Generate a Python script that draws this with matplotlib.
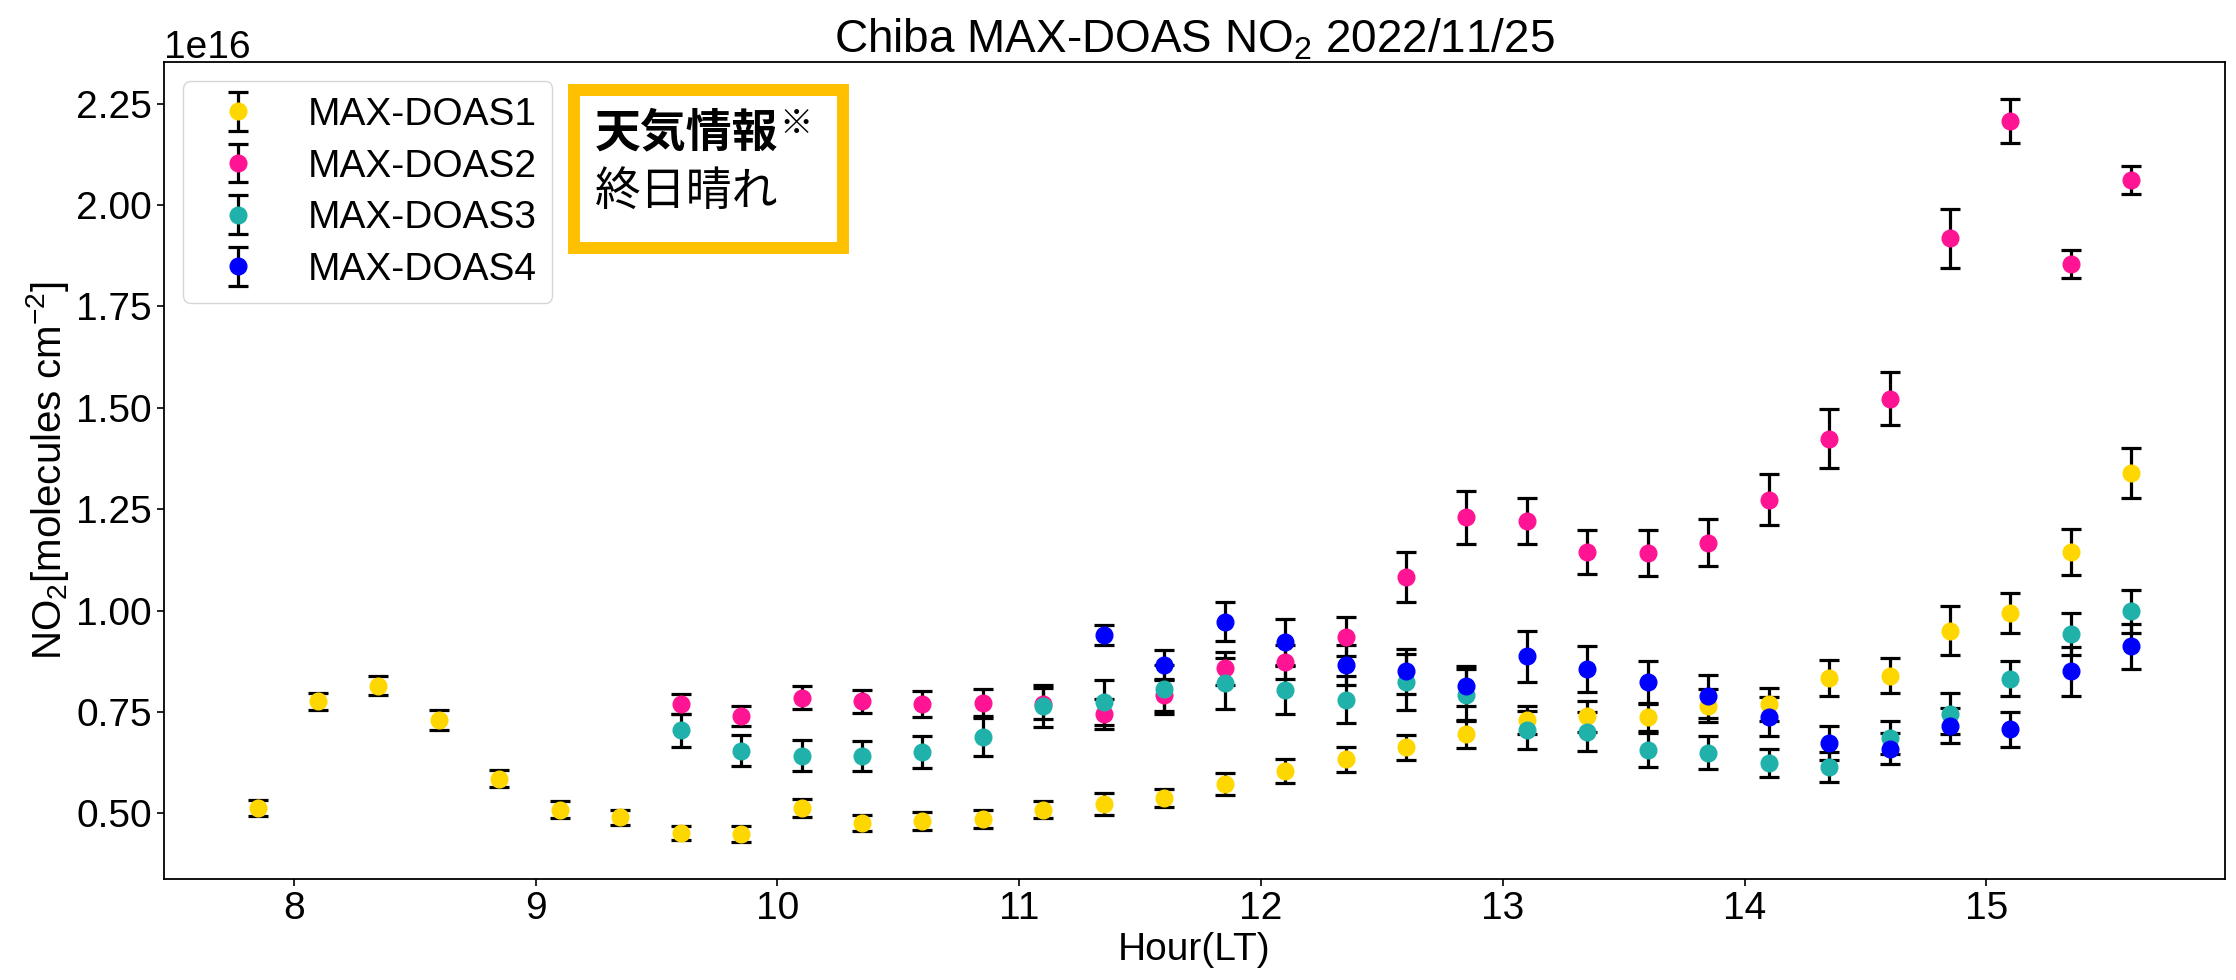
import matplotlib
matplotlib.use('Agg')
import matplotlib.pyplot as plt
from matplotlib.patches import Rectangle

plt.rcParams['font.family'] = ['Liberation Sans', 'DejaVu Sans']
plt.rcParams['mathtext.fontset'] = 'custom'
plt.rcParams['mathtext.rm'] = 'Liberation Sans'
plt.rcParams['mathtext.it'] = 'Liberation Sans:italic'

# hours (LT)
hours1 = [7.85, 8.1, 8.35, 8.6, 8.85, 9.1, 9.35, 9.6, 9.85, 10.1, 10.35, 10.6,
          10.85, 11.1, 11.35, 11.6, 11.85, 12.1, 12.35, 12.6, 12.85, 13.1, 13.35,
          13.6, 13.85, 14.1, 14.35, 14.6, 14.85, 15.1, 15.35, 15.6]
hours23 = [9.6, 9.85, 10.1, 10.35, 10.6, 10.85, 11.1, 11.35, 11.6, 11.85, 12.1,
           12.35, 12.6, 12.85, 13.1, 13.35, 13.6, 13.85, 14.1, 14.35, 14.6,
           14.85, 15.1, 15.35, 15.6]
hours4 = [11.35, 11.6, 11.85, 12.1, 12.35, 12.6, 12.85, 13.1, 13.35, 13.6, 13.85,
          14.1, 14.35, 14.6, 14.85, 15.1, 15.35, 15.6]

# NO2 [1e16 molecules cm-2] and errors
no2_1 = [0.513, 0.776, 0.815, 0.730, 0.585, 0.509, 0.490, 0.452, 0.449, 0.513,
         0.476, 0.482, 0.486, 0.509, 0.524, 0.539, 0.572, 0.605, 0.633, 0.663,
         0.695, 0.730, 0.740, 0.738, 0.766, 0.769, 0.834, 0.840, 0.951, 0.994,
         1.145, 1.340]
err_1 = [0.019, 0.020, 0.023, 0.024, 0.021, 0.021, 0.018, 0.018, 0.019, 0.023,
         0.020, 0.022, 0.022, 0.021, 0.027, 0.022, 0.027, 0.029, 0.030, 0.031,
         0.034, 0.035, 0.038, 0.035, 0.040, 0.040, 0.044, 0.042, 0.060, 0.050,
         0.056, 0.062]

no2_2 = [0.769, 0.740, 0.785, 0.776, 0.770, 0.773, 0.771, 0.746, 0.791, 0.858,
         0.873, 0.936, 1.083, 1.230, 1.221, 1.145, 1.142, 1.167, 1.273, 1.424,
         1.523, 1.918, 2.207, 1.854, 2.061]
err_2 = [0.025, 0.025, 0.028, 0.029, 0.032, 0.034, 0.038, 0.037, 0.038, 0.041,
         0.042, 0.048, 0.062, 0.065, 0.056, 0.055, 0.056, 0.058, 0.063, 0.072,
         0.066, 0.073, 0.054, 0.034, 0.035]

no2_3 = [0.705, 0.655, 0.642, 0.641, 0.652, 0.689, 0.764, 0.774, 0.806, 0.821,
         0.805, 0.780, 0.824, 0.793, 0.705, 0.701, 0.656, 0.650, 0.624, 0.615,
         0.687, 0.746, 0.832, 0.943, 0.998]
err_3 = [0.040, 0.038, 0.038, 0.037, 0.039, 0.047, 0.052, 0.055, 0.060, 0.063,
         0.060, 0.058, 0.068, 0.062, 0.047, 0.048, 0.042, 0.041, 0.035, 0.037,
         0.040, 0.050, 0.043, 0.052, 0.053]

no2_4 = [0.940, 0.867, 0.973, 0.922, 0.866, 0.850, 0.814, 0.887, 0.856, 0.824,
         0.789, 0.738, 0.673, 0.660, 0.716, 0.708, 0.850, 0.912]
err_4 = [0.024, 0.036, 0.048, 0.058, 0.050, 0.056, 0.049, 0.063, 0.056, 0.053,
         0.053, 0.048, 0.042, 0.038, 0.043, 0.043, 0.060, 0.056]

series = [
    ('MAX-DOAS1', hours1, no2_1, err_1, '#FFD700'),
    ('MAX-DOAS2', hours23, no2_2, err_2, '#FF1493'),
    ('MAX-DOAS3', hours23, no2_3, err_3, '#20B2AA'),
    ('MAX-DOAS4', hours4, no2_4, err_4, '#0000FF'),
]

fig = plt.figure(figsize=(22.36, 9.8), dpi=100)
ax = fig.add_axes([0.0733, 0.1031, 0.9218, 0.8336])

for name, x, y, e, c in series:
    ax.errorbar(x, [v * 1e16 for v in y], yerr=[v * 1e16 for v in e],
                fmt='o', color=c, ms=12, ecolor='black', elinewidth=2.3,
                capsize=7, capthick=2.3, label=name)

ax.set_title('Chiba MAX-DOAS NO$_2$ 2022/11/25', fontsize=33)
ax.set_xlabel('Hour(LT)', fontsize=28)
ax.set_ylabel('NO$_2$[molecules cm$^{-2}$]', fontsize=29)
ax.tick_params(labelsize=28, length=5, width=1.2)
ax.yaxis.get_offset_text().set_fontsize(28)
for s in ax.spines.values():
    s.set_linewidth(1.3)

ax.legend(loc='upper left', fontsize=28, labelspacing=0.4)

# weather info box
ax.add_patch(Rectangle((0.1992, 0.7723), 0.1305, 0.1934, transform=ax.transAxes,
                       facecolor='white', edgecolor='#FFC000', lw=8.6, zorder=5))
ax.text(0.2091, 0.913, '天気情報', transform=ax.transAxes, fontsize=33,
        family=['Noto Sans CJK JP'], fontweight='bold', va='center', zorder=6)
ax.text(0.2985, 0.924, '※', transform=ax.transAxes, fontsize=24,
        family=['Noto Sans CJK JP'], va='center', zorder=6)
ax.text(0.2091, 0.841, '終日晴れ', transform=ax.transAxes, fontsize=33,
        family=['Noto Sans CJK JP'], va='center', zorder=6)

fig.savefig('out.png', dpi=100)
